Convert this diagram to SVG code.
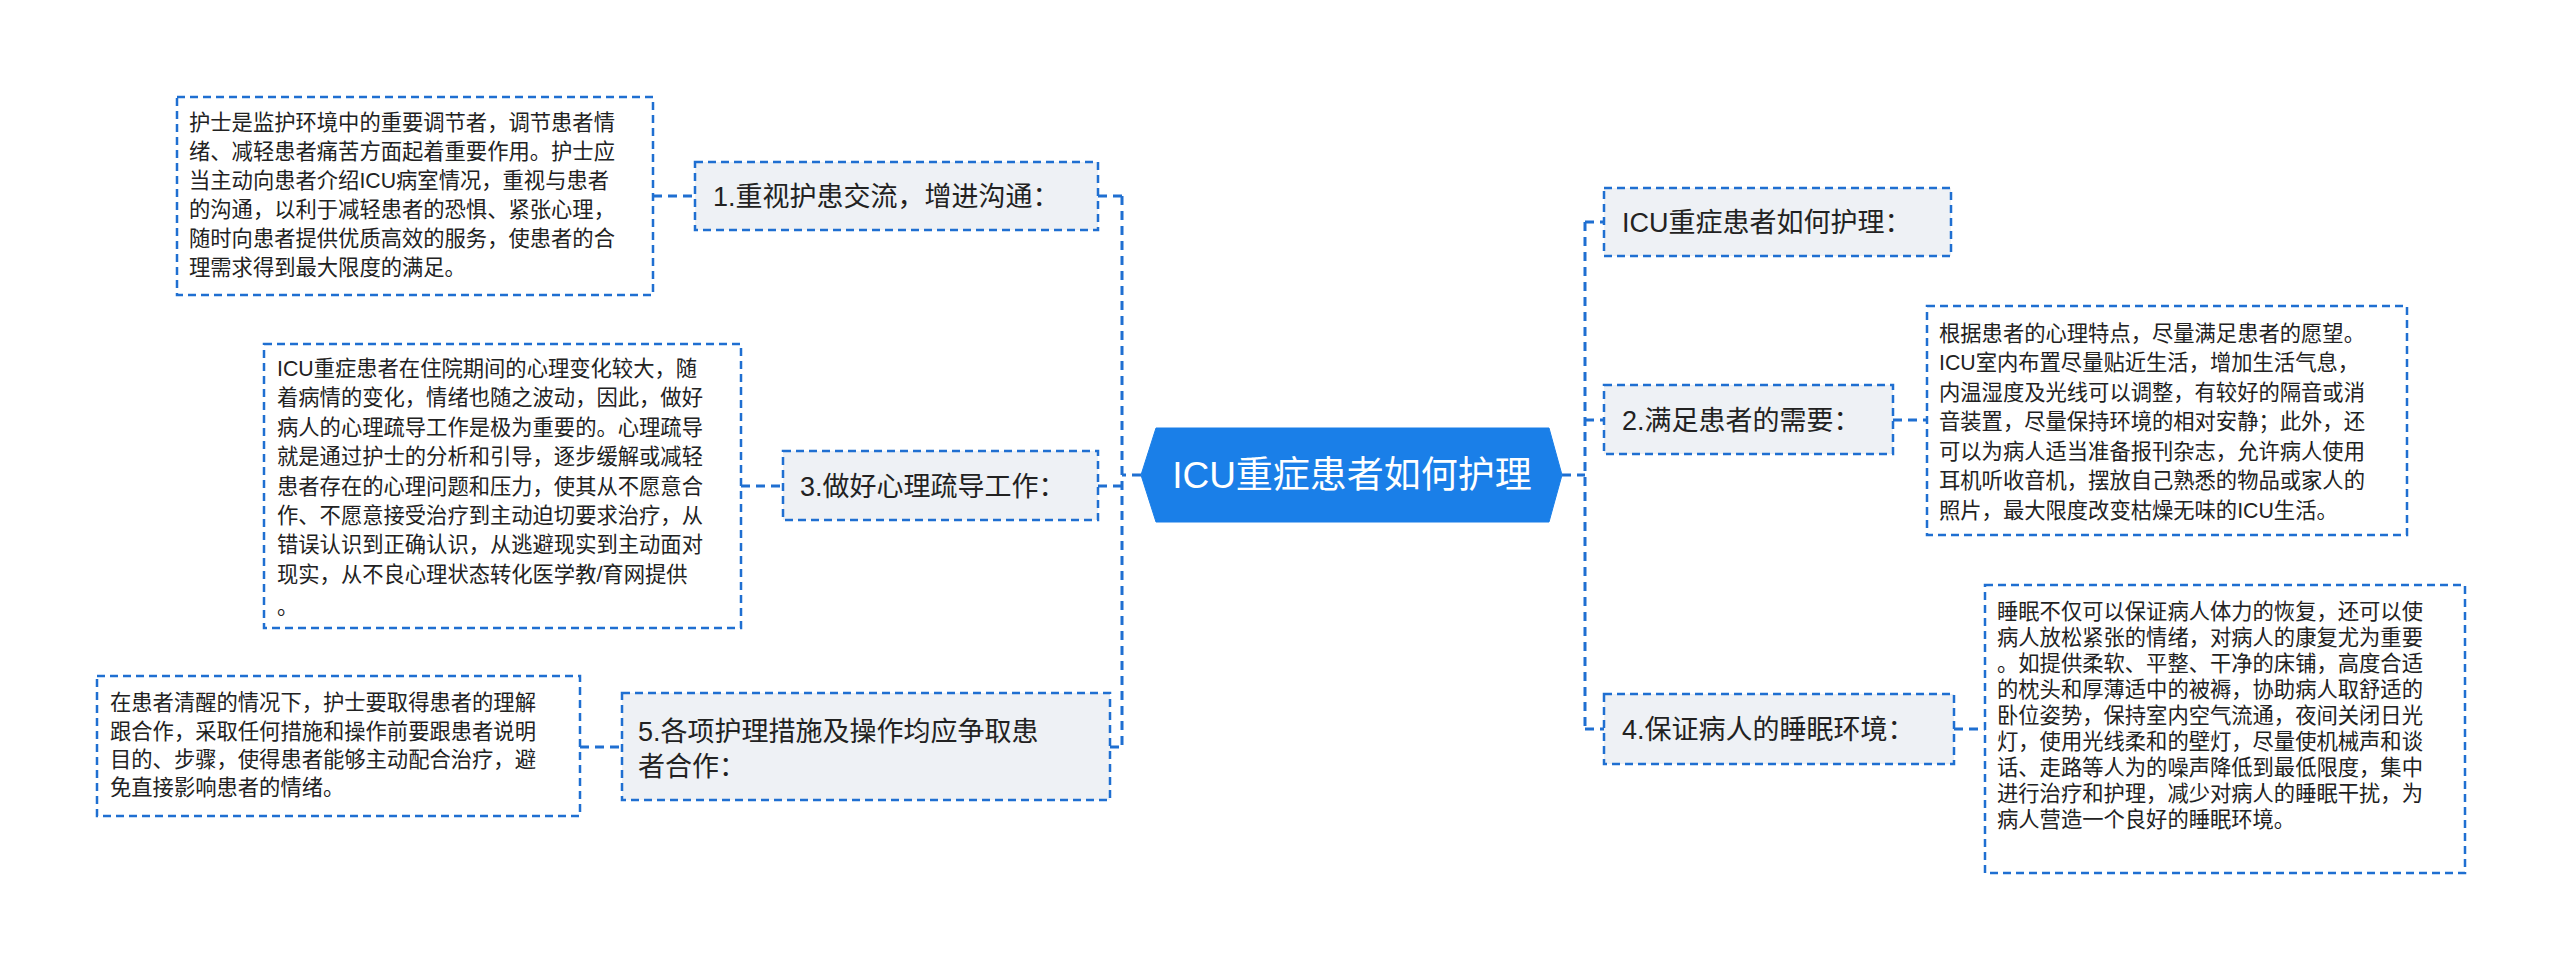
<svg xmlns="http://www.w3.org/2000/svg" width="2560" height="962" viewBox="0 0 2560 962">
<style>
.n{fill:#eef1f5;stroke:#1f6fd1;stroke-width:2.5;stroke-dasharray:8 5}
.b{fill:#fff;stroke:#1f6fd1;stroke-width:2.5;stroke-dasharray:8 5}
.c{fill:none;stroke:#1f6fd1;stroke-width:3;stroke-dasharray:9 6}
.t{font-family:"Liberation Sans","Noto Sans CJK SC",sans-serif;fill:#222}
.nt{font-size:27px}
.bt{font-size:21.3px}
</style>
<rect width="2560" height="962" fill="#fff"/>
<g id="connectors">
<path class="c" d="M1141 475H1122M1122 196V747M1098 196H1122M1098 486H1122M1110 747H1122"/>
<path class="c" d="M653 196H695M741 486H783M580 747H622"/>
<path class="c" d="M1562 475H1585M1585 222V729M1585 222H1604M1585 420H1604M1585 729H1604"/>
<path class="c" d="M1893 420H1927M1954 729H1985"/>
</g>
<g id="center">
<polygon points="1141,475 1156,428 1549,428 1562,475 1549,522 1156,522" fill="#1a7fe8" stroke="#1a7fe8"/>
<text class="t" x="1352" y="488" font-size="37" text-anchor="middle" fill="#fff" style="fill:#fff">ICU重症患者如何护理</text>
</g>
<g id="n1"><rect class="n" x="695" y="162" width="403" height="68"/><text class="t nt" x="713" y="206">1.重视护患交流，增进沟通：</text></g>
<g id="b1"><rect class="b" x="177" y="97" width="476" height="198"/>
<text class="t bt" x="189"><tspan x="189" y="130">护士是监护环境中的重要调节者，调节患者情</tspan><tspan x="189" y="159">绪、减轻患者痛苦方面起着重要作用。护士应</tspan><tspan x="189" y="188">当主动向患者介绍ICU病室情况，重视与患者</tspan><tspan x="189" y="217">的沟通，以利于减轻患者的恐惧、紧张心理，</tspan><tspan x="189" y="246">随时向患者提供优质高效的服务，使患者的合</tspan><tspan x="189" y="275">理需求得到最大限度的满足。</tspan></text></g>
<g id="n3"><rect class="n" x="783" y="451" width="315" height="69"/><text class="t nt" x="800" y="496">3.做好心理疏导工作：</text></g>
<g id="b3"><rect class="b" x="264" y="344" width="477" height="284"/>
<text class="t bt"><tspan x="277" y="376">ICU重症患者在住院期间的心理变化较大，随</tspan><tspan x="277" y="405">着病情的变化，情绪也随之波动，因此，做好</tspan><tspan x="277" y="435">病人的心理疏导工作是极为重要的。心理疏导</tspan><tspan x="277" y="464">就是通过护士的分析和引导，逐步缓解或减轻</tspan><tspan x="277" y="494">患者存在的心理问题和压力，使其从不愿意合</tspan><tspan x="277" y="523">作、不愿意接受治疗到主动迫切要求治疗，从</tspan><tspan x="277" y="552">错误认识到正确认识，从逃避现实到主动面对</tspan><tspan x="277" y="582">现实，从不良心理状态转化医学教/育网提供</tspan><tspan x="277" y="614">。</tspan></text></g>
<g id="n5"><rect class="n" x="622" y="693" width="488" height="107"/><text class="t nt"><tspan x="638" y="741">5.各项护理措施及操作均应争取患</tspan><tspan x="638" y="776">者合作：</tspan></text></g>
<g id="b5"><rect class="b" x="97" y="676" width="483" height="140"/>
<text class="t bt"><tspan x="110" y="710">在患者清醒的情况下，护士要取得患者的理解</tspan><tspan x="110" y="739">跟合作，采取任何措施和操作前要跟患者说明</tspan><tspan x="110" y="767">目的、步骤，使得患者能够主动配合治疗，避</tspan><tspan x="110" y="795">免直接影响患者的情绪。</tspan></text></g>
<g id="nr"><rect class="n" x="1604" y="188" width="347" height="68"/><text class="t nt" x="1622" y="232">ICU重症患者如何护理：</text></g>
<g id="n2"><rect class="n" x="1604" y="385" width="289" height="69"/><text class="t nt" x="1622" y="430">2.满足患者的需要：</text></g>
<g id="b2"><rect class="b" x="1927" y="306" width="480" height="229"/>
<text class="t bt"><tspan x="1939" y="341">根据患者的心理特点，尽量满足患者的愿望。</tspan><tspan x="1939" y="370">ICU室内布置尽量贴近生活，增加生活气息，</tspan><tspan x="1939" y="400">内温湿度及光线可以调整，有较好的隔音或消</tspan><tspan x="1939" y="429">音装置，尽量保持环境的相对安静；此外，还</tspan><tspan x="1939" y="459">可以为病人适当准备报刊杂志，允许病人使用</tspan><tspan x="1939" y="488">耳机听收音机，摆放自己熟悉的物品或家人的</tspan><tspan x="1939" y="518">照片，最大限度改变枯燥无味的ICU生活。</tspan></text></g>
<g id="n4"><rect class="n" x="1604" y="694" width="350" height="70"/><text class="t nt" x="1622" y="739">4.保证病人的睡眠环境：</text></g>
<g id="b4"><rect class="b" x="1985" y="585" width="480" height="288"/>
<text class="t bt"><tspan x="1997" y="619">睡眠不仅可以保证病人体力的恢复，还可以使</tspan><tspan x="1997" y="645">病人放松紧张的情绪，对病人的康复尤为重要</tspan><tspan x="1997" y="671">。如提供柔软、平整、干净的床铺，高度合适</tspan><tspan x="1997" y="697">的枕头和厚薄适中的被褥，协助病人取舒适的</tspan><tspan x="1997" y="723">卧位姿势，保持室内空气流通，夜间关闭日光</tspan><tspan x="1997" y="749">灯，使用光线柔和的壁灯，尽量使机械声和谈</tspan><tspan x="1997" y="775">话、走路等人为的噪声降低到最低限度，集中</tspan><tspan x="1997" y="801">进行治疗和护理，减少对病人的睡眠干扰，为</tspan><tspan x="1997" y="827">病人营造一个良好的睡眠环境。</tspan></text></g>
</svg>
